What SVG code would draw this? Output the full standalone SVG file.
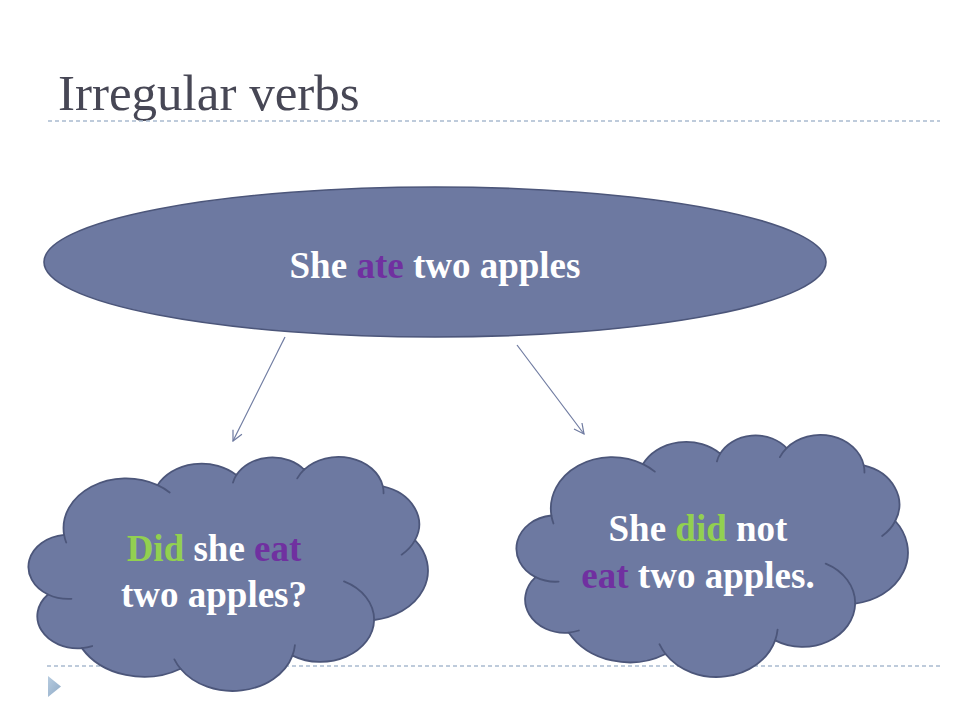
<svg xmlns="http://www.w3.org/2000/svg" width="960" height="720" viewBox="0 0 960 720">
  <defs>
    <style>
      .dash { stroke: #A9BBCF; stroke-width: 1.3; stroke-dasharray: 4 3; fill: none; }
      .shape { fill: #6D79A1; stroke: #4C567A; stroke-width: 1.6; }
      .cloud { fill: #6D79A1; stroke: #4C567A; stroke-width: 1.8; vector-effect: non-scaling-stroke; stroke-linejoin: round; }
      .crease { fill: none; stroke: #4C567A; stroke-width: 1.8; vector-effect: non-scaling-stroke; stroke-linecap: round; }
      .label { font-family: "Liberation Serif", "Times New Roman", serif; font-weight: bold; font-size: 37px; fill: #FFFFFF; text-anchor: middle; }
      .g { fill: #92D050; }
      .p { fill: #7030A0; }
      .conn { stroke: #6E7AA0; stroke-width: 1.2; fill: none; }
      .title { font-family: "Liberation Serif", "Times New Roman", serif; font-size: 51px; fill: #474755; }
    </style>
    <marker id="arrow" viewBox="0 0 12 12" refX="11" refY="6" markerWidth="12" markerHeight="12" markerUnits="userSpaceOnUse" orient="auto">
      <path d="M1,1 L11,6 L1,11" fill="none" stroke="#6E7AA0" stroke-width="1.2"/>
    </marker>
    <linearGradient id="tri" x1="0" y1="0" x2="1" y2="1">
      <stop offset="0" stop-color="#B7CCE0"/>
      <stop offset="1" stop-color="#8FAAC6"/>
    </linearGradient>
  </defs>

  <rect x="0" y="0" width="960" height="720" fill="#FFFFFF"/>

  <g id="title">
    <text class="title" x="58" y="110">Irregular verbs</text>
  </g>

  <g id="decor">
    <line class="dash" x1="48" y1="121" x2="940" y2="121"/>
    <line class="dash" x1="47" y1="666" x2="940" y2="666"/>
    <polygon points="48,676 61,686.5 48,697" fill="url(#tri)"/>
  </g>

  <g id="connectors">
    <line class="conn" x1="285" y1="337" x2="233" y2="441" marker-end="url(#arrow)"/>
    <line class="conn" x1="517" y1="345" x2="584" y2="434" marker-end="url(#arrow)"/>
  </g>

  <g id="node-main">
    <ellipse class="shape" cx="435" cy="262" rx="391" ry="75"/>
    <text class="label" x="435" y="278">She <tspan class="p">ate</tspan> two apples</text>
  </g>

  <g id="node-question">
    <g transform="translate(28,457) scale(0.0092593,0.0054167)">
      <path class="cloud" d="M3900,14370 A6753,9190 0 0 1 14000,5192 A5333,7267 0 0 1 22500,3331 A4365,5945 0 0 1 29820,2339 A4857,6595 0 0 1 38324,5426 A5333,7273 0 0 1 41798,15354 A6775,9220 0 0 1 37380,30090 A5785,7867 0 0 1 28560,36660 A6752,9215 0 0 1 16478,39090 A7720,10543 0 0 1 5820,35280 A4360,5918 0 0 1 2160,25380 A4345,5945 0 0 1 3900,14370 Z"/>
      <path class="crease" d="M4693,26177 A4345,5945 0 0 1 2160,25380 M6928,34899 A4360,5918 0 0 1 5820,35280 M16478,39090 A6752,9215 0 0 1 15810,37351 M28827,34751 A6752,9215 0 0 1 28560,36660 M34129,22954 A5785,7867 0 0 1 37380,30090 M41798,15354 A5333,7273 0 0 1 40350,18030 M38324,5426 A4857,6595 0 0 1 38400,6690 M29078,3952 A4857,6595 0 0 1 29820,2339 M22141,4720 A4365,5945 0 0 1 22500,3331 M14000,5192 A6753,9190 0 0 1 15300,6540 M4127,15789 A6753,9190 0 0 1 3900,14370"/>
    </g>
    <text class="label" x="214" y="561"><tspan class="g">Did</tspan> she <tspan class="p">eat</tspan></text>
    <text class="label" x="214" y="607">two apples?</text>
  </g>

  <g id="node-negative">
    <g transform="translate(516,435) scale(0.0090741,0.0056019)">
      <path class="cloud" d="M3900,14370 A6753,9190 0 0 1 14000,5192 A5333,7267 0 0 1 22500,3331 A4365,5945 0 0 1 29820,2339 A4857,6595 0 0 1 38324,5426 A5333,7273 0 0 1 41798,15354 A6775,9220 0 0 1 37380,30090 A5785,7867 0 0 1 28560,36660 A6752,9215 0 0 1 16478,39090 A7720,10543 0 0 1 5820,35280 A4360,5918 0 0 1 2160,25380 A4345,5945 0 0 1 3900,14370 Z"/>
      <path class="crease" d="M4693,26177 A4345,5945 0 0 1 2160,25380 M6928,34899 A4360,5918 0 0 1 5820,35280 M16478,39090 A6752,9215 0 0 1 15810,37351 M28827,34751 A6752,9215 0 0 1 28560,36660 M34129,22954 A5785,7867 0 0 1 37380,30090 M41798,15354 A5333,7273 0 0 1 40350,18030 M38324,5426 A4857,6595 0 0 1 38400,6690 M29078,3952 A4857,6595 0 0 1 29820,2339 M22141,4720 A4365,5945 0 0 1 22500,3331 M14000,5192 A6753,9190 0 0 1 15300,6540 M4127,15789 A6753,9190 0 0 1 3900,14370"/>
    </g>
    <text class="label" x="698" y="541">She <tspan class="g">did</tspan> not</text>
    <text class="label" x="698" y="588"><tspan class="p">eat</tspan> two apples.</text>
  </g>
</svg>
